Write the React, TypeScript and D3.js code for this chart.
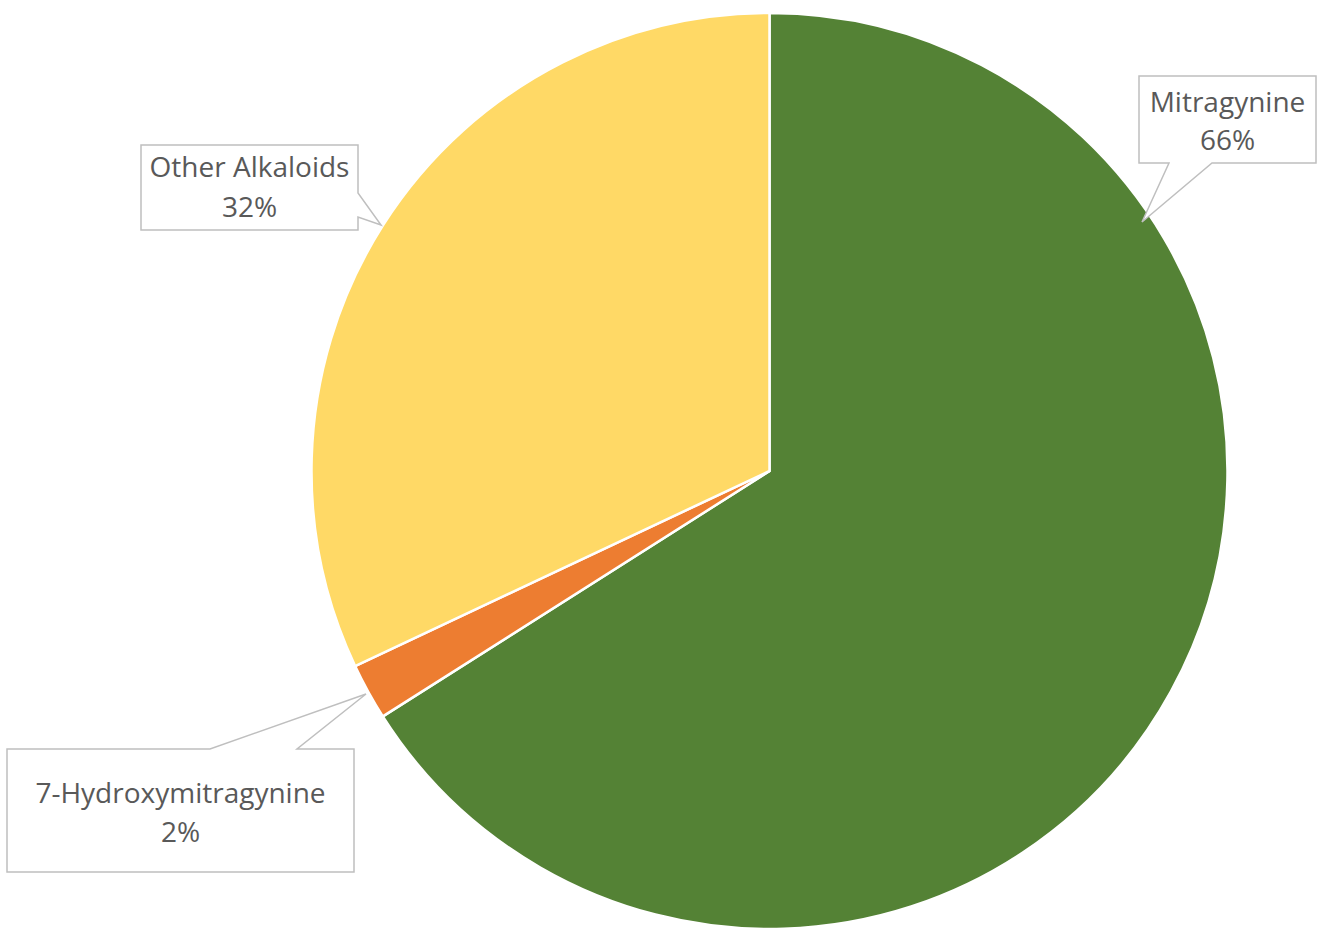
import React from "react";
import * as d3 from "d3";

const categories = ["Mitragynine", "7-Hydroxymitragynine", "Other Alkaloids"];
const values = [66, 2, 32];
const colors = ["#548235", "#ED7D31", "#FFD966"];

const W = 1332;
const H = 936;
const CX = 769.5;
const CY = 471;
const R = 458;

// callout layout (box, pointer) per category
const callouts = [
  { box: [1139, 76, 1316, 163], side: "bottom", p: [1169, 1212], tip: [1142, 222], lines: [112, 150] },
  { box: [7, 749, 354, 872], side: "top", p: [210, 297], tip: [366, 694], lines: [803, 842] },
  { box: [141, 145, 358, 230], side: "right", p: [193, 217], tip: [381, 225], lines: [177, 217] },
];

function calloutPath(c: any): string {
  const [x0, y0, x1, y1] = c.box;
  const [a, b] = c.p;
  const [tx, ty] = c.tip;
  const p = d3.path();
  if (c.side === "bottom") {
    p.moveTo(x0, y0); p.lineTo(x1, y0); p.lineTo(x1, y1); p.lineTo(b, y1);
    p.lineTo(tx, ty); p.lineTo(a, y1); p.lineTo(x0, y1); p.closePath();
  } else if (c.side === "top") {
    p.moveTo(x0, y0); p.lineTo(a, y0); p.lineTo(tx, ty); p.lineTo(b, y0);
    p.lineTo(x1, y0); p.lineTo(x1, y1); p.lineTo(x0, y1); p.closePath();
  } else {
    p.moveTo(x0, y0); p.lineTo(x1, y0); p.lineTo(x1, a); p.lineTo(tx, ty);
    p.lineTo(x1, b); p.lineTo(x1, y1); p.lineTo(x0, y1); p.closePath();
  }
  return p.toString();
}

export default function App() {
  const pie = d3.pie<number>().sort(null).value((d) => d).startAngle(0).endAngle(2 * Math.PI);
  const arcs = pie(values);
  const arc = d3.arc<d3.PieArcDatum<number>>().innerRadius(0).outerRadius(R);
  const total = d3.sum(values);

  return (
    <svg
      width={W}
      height={H}
      style={{ position: "absolute", left: 0, top: 0, background: "#fff" }}
      fontFamily="'Open Sans', sans-serif"
    >
      <g transform={`translate(${CX},${CY})`}>
        {arcs.map((a, i) => (
          <path key={i} d={arc(a) || ""} fill={colors[i]} stroke="#fff" strokeWidth={2.5} strokeLinejoin="miter" />
        ))}
      </g>
      {callouts.map((c, i) => {
        const cx = (c.box[0] + c.box[2]) / 2;
        return (
          <g key={i}>
            <path d={calloutPath(c)} fill="#fff" stroke="#BFBFBF" strokeWidth={1.5} />
            <text x={cx} y={c.lines[0]} textAnchor="middle" fontSize={28} fill="#595959">
              {categories[i]}
            </text>
            <text x={cx} y={c.lines[1]} textAnchor="middle" fontSize={28} fill="#595959">
              {`${Math.round((values[i] / total) * 100)}%`}
            </text>
          </g>
        );
      })}
    </svg>
  );
}
